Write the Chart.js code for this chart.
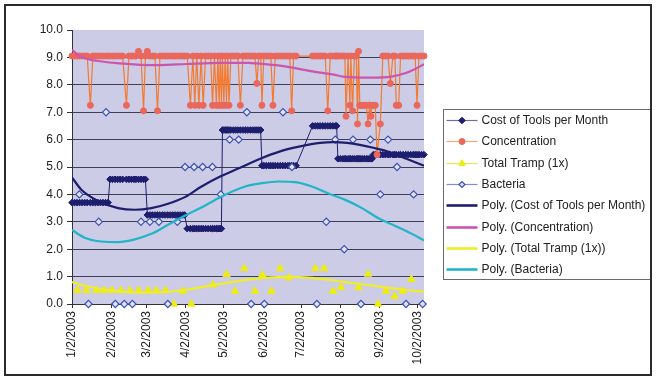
<!DOCTYPE html>
<html><head><meta charset="utf-8">
<script src="https://cdn.jsdelivr.net/npm/chart.js@4.4.1/dist/chart.umd.min.js"></script>
<style>html,body{margin:0;padding:0;background:#fff;}#wrap{position:relative;width:660px;height:383px;}</style>
</head><body><div id="wrap"><canvas id="c" width="660" height="383"></canvas></div>
<script>
// x values are days counted from 1/2/2003
const tickDays = [0, 31, 59, 90, 120, 151, 181, 212, 243, 273];
const tickLabels = ['1/2/2003','2/2/2003','3/2/2003','4/2/2003','5/2/2003','6/2/2003','7/2/2003','8/2/2003','9/2/2003','10/2/2003'];

const sampleDays = [
 0,2,4,6,8,10,12,14.5,16.5,18.5,20.5,22.5,24.5,26.5,28.5,
 30,32,34,36,38,40,43,45,47,49,50.5,52.5,54.5,56.5,58,
 59.5,61.5,63.5,65.5,67.5,69.5,71.5,73.5,75.5,77.5,79.5,81.5,83.5,85.5,87.5,89,
 91,93.5,95.5,97,98.5,100.2,102,103.6,105.5,107.5,109.5,111,112.5,114,115.2,116.2,117.1,118,
 118.8,119.9,121,122,123,124,125.5,127.5,129.5,131,133,135,137,139,141,143,144.5,146,147.5,149,
 150,151.5,153.5,155.5,157,158.7,160.5,162.5,164.5,166.5,168.5,170.5,172,173.5,175,177,
 190,192,194,196,198,200,202,204,206,208,209,
 210,212,214,215.5,216.4,218,219.5,220.2,221.6,223,224.5,225.5,226.3,227.3,228.2,229.6,231,232.5,233.8,235,236.1,237,
 238,239.5,240.9,243.5,245.5,247.5,249.5,251.4,253.5,255,256.1,258,259.5,261.5,263.5,265.5,267.5,269.5,271,272.5,274,276,278
];
const costOfTools = [
 3.7,3.7,3.7,3.7,3.7,3.7,3.7,3.7,3.7,3.7,3.7,3.7,3.7,3.7,3.7,
 4.55,4.55,4.55,4.55,4.55,4.55,4.55,4.55,4.55,4.55,4.55,4.55,4.55,4.55,4.55,
 3.25,3.25,3.25,3.25,3.25,3.25,3.25,3.25,3.25,3.25,3.25,3.25,3.25,3.25,3.25,3.25,
 2.75,2.75,2.75,2.75,2.75,2.75,2.75,2.75,2.75,2.75,2.75,2.75,2.75,2.75,2.75,2.75,2.75,2.75,
 6.35,6.35,6.35,6.35,6.35,6.35,6.35,6.35,6.35,6.35,6.35,6.35,6.35,6.35,6.35,6.35,6.35,6.35,6.35,6.35,
 5.05,5.05,5.05,5.05,5.05,5.05,5.05,5.05,5.05,5.05,5.05,5.05,5.05,5.05,5.05,5.05,
 6.5,6.5,6.5,6.5,6.5,6.5,6.5,6.5,6.5,6.5,6.5,
 5.3,5.3,5.3,5.3,5.3,5.3,5.3,5.3,5.3,5.3,5.3,5.3,5.3,5.3,5.3,5.3,5.3,5.3,5.3,5.3,5.3,5.3,
 5.45,5.45,5.45,5.45,5.45,5.45,5.45,5.45,5.45,5.45,5.45,5.45,5.45,5.45,5.45,5.45,5.45,5.45,5.45,5.45,5.45,5.45,5.45
];
const concentration = [
 9.05,9.05,9.05,9.05,9.05,9.05,9.05,7.25,9.05,9.05,9.05,9.05,9.05,9.05,9.05,
 9.05,9.05,9.05,9.05,9.05,9.05,7.25,9.05,9.05,9.05,9.05,9.22,9.05,7.05,9.05,
 9.22,9.05,9.05,9.05,7.05,9.05,9.05,9.05,9.05,9.05,9.05,9.05,9.05,9.05,9.05,9.05,
 9.05,7.25,9.05,7.25,9.05,7.25,9.05,7.25,9.05,9.05,9.05,7.25,9.05,7.25,9.05,7.25,9.05,7.25,
 9.05,7.25,9.05,7.25,9.05,7.25,9.05,9.05,9.05,9.05,7.25,9.05,9.05,9.05,9.05,9.05,9.05,8.05,9.05,9.05,
 7.25,9.05,9.05,9.05,9.05,7.25,9.05,9.05,9.05,9.05,9.05,9.05,9.05,7.05,9.05,9.05,
 9.05,9.05,9.05,9.05,9.05,9.05,7.05,9.05,9.05,9.05,9.05,
 9.05,9.05,9.05,9.05,6.85,9.05,7.25,9.05,7.05,9.05,9.05,6.57,9.22,7.25,7.25,7.25,7.25,7.25,6.57,7.25,6.85,7.25,
 7.25,7.25,5.45,6.57,9.05,9.05,9.05,8.05,9.05,9.05,7.25,7.25,9.05,9.05,9.05,9.05,9.05,9.05,9.05,7.25,9.05,9.05,9.05
];
const trampDays = [4.2,11.3,19.2,25.3,31.6,38.5,45.6,52.7,60.1,66.6,73.8,80.4,87.5,94.2,111.3,122.1,128.7,136.1,144.5,150.4,157.5,164.4,171,192.1,199.2,206.1,212.4,226.3,233.8,241.7,248,254.8,261.1,268];
const totalTramp = [0.5,0.5,0.5,0.5,0.5,0.5,0.5,0.5,0.5,0.5,0.5,0,0.47,0,0.7,1.08,0.47,1.3,0.47,1.06,0.47,1.3,0.96,1.3,1.3,0.47,0.6,0.6,1.09,0,0.47,0.28,0.47,0.9];
const bacteriaDays = [5.8,13,21.1,26.9,34.2,41.3,47.7,54.5,61.5,68.6,75.7,83.2,89.3,96.4,103.2,110.9,117.5,124.5,131.6,138.1,141.5,151.9,166.6,173.7,193.4,200.8,207.9,215,221.9,228.2,235.6,243.5,249.6,256.7,263.8,269.8,276.9];
const bacteria = [4,0,3,7,0,0,0,3,3,3,0,3,5,5,5,5,4,6,6,7,0,0,7,5,0,3,6,2,6,0,6,4,6,5,0,4,0];

const polyCostDays = [0,7.4,20.6,36.4,49.6,62.7,75.9,89.1,102,117,132.8,148.6,164.4,180.2,196,206.3,217.2,233,248.8,264.6,278];
const polyCost = [4.62,4.17,3.76,3.5,3.44,3.5,3.66,3.9,4.28,4.65,4.97,5.3,5.57,5.75,5.88,5.91,5.88,5.75,5.57,5.29,5.05];
const polyConcDays = [0,6.3,14.2,22.1,37.9,53.8,69.6,90.7,117,139.1,146,166.8,191.9,206.6,214.2,235.6,252.4,263,269.8,278];
const polyConc = [9.28,9.04,8.92,8.86,8.78,8.73,8.72,8.76,8.8,8.8,8.78,8.68,8.47,8.37,8.3,8.26,8.3,8.42,8.55,8.75];
const polyTrampDays = [0,12.6,36.4,62.7,75.9,89.1,110.1,136.8,152.6,171,189.5,215.8,242.1,263.2,278];
const polyTramp = [0.8,0.64,0.46,0.41,0.44,0.51,0.68,0.87,0.95,0.99,0.95,0.8,0.64,0.52,0.45];
const polyBactDays = [0,10,23.2,36.4,49.6,62.7,75.9,89.1,102.2,117,136.8,150,163.1,176.3,189.5,202.6,215.8,229,242.1,255.3,268.5,278];
const polyBact = [2.7,2.42,2.28,2.26,2.36,2.56,2.89,3.22,3.52,3.9,4.29,4.41,4.47,4.45,4.29,4.03,3.8,3.5,3.13,2.85,2.56,2.32];

const FONT = "'Liberation Sans', Arial, sans-serif";
Chart.defaults.font.family = FONT;
Chart.defaults.font.size = 12;
Chart.defaults.color = '#222';

const pts = (xs, ys) => xs.map((x, i) => ({x: x, y: ys[i]}));

const NAVY = '#1E1E6E', ORANGE = '#F47A30', SALMON = '#EA675C', YEL = '#EEEC10', BLUE = '#3A52B0';
const MAG = '#CC55AE', YLINE = '#EEEE2A', CYAN = '#22B4C8';

const bgFrame = {
  id: 'bgFrame',
  beforeDraw(chart) {
    const ctx = chart.ctx, a = chart.chartArea;
    ctx.save();
    ctx.fillStyle = '#ffffff';
    ctx.fillRect(0, 0, chart.width, chart.height);
    ctx.fillStyle = '#CCCCE6';
    ctx.fillRect(a.left, a.top, a.right - a.left, a.bottom - a.top);
    ctx.restore();
  },
  afterDraw(chart) {
    const ctx = chart.ctx;
    ctx.save();
    // legend box
    ctx.fillStyle = '#ffffff';
    ctx.fillRect(443, 109, 208, 171);
    ctx.strokeStyle = '#6a6a6a';
    ctx.lineWidth = 1;
    ctx.strokeRect(443.5, 109.5, 207, 170);
    const H = Chart.helpers;
    chart.data.datasets.forEach((ds, i) => {
      const y = Math.round(120 + i * 21.33) + 0.5;
      const poly = ds.label.indexOf('Poly.') === 0;
      ctx.beginPath();
      ctx.moveTo(446.5, y); ctx.lineTo(477.5, y);
      if (poly) {
        ctx.globalAlpha = 1; ctx.lineWidth = 2.6; ctx.strokeStyle = ds.borderColor;
      } else {
        ctx.globalAlpha = 0.65; ctx.lineWidth = 1.2; ctx.strokeStyle = ds.legendLine;
      }
      ctx.stroke();
      ctx.globalAlpha = 1;
      if (!poly) {
        ctx.fillStyle = ds.pointBackgroundColor;
        ctx.strokeStyle = ds.pointBorderColor;
        ctx.lineWidth = ds.pointBorderWidth || 1;
        H.drawPoint(ctx, {pointStyle: ds.pointStyle, radius: ds.legendRadius, borderWidth: ds.pointBorderWidth || 1, rotation: 0}, 462, y);
      }
      ctx.fillStyle = '#222';
      ctx.font = '12px ' + FONT;
      ctx.textBaseline = 'middle';
      ctx.textAlign = 'left';
      ctx.fillText(ds.label, 481.5, y);
    });
    // outer frame
    ctx.strokeStyle = '#2a2a2a';
    ctx.lineWidth = 2;
    ctx.strokeRect(5, 5, 646, 370);
    ctx.restore();
  }
};

new Chart(document.getElementById('c'), {
  type: 'line',
  data: {
    datasets: [
      { label: 'Cost of Tools per Month', data: pts(sampleDays, costOfTools), borderColor: NAVY, borderWidth: 1,
        pointStyle: 'rectRot', pointRadius: 3.3, pointBackgroundColor: NAVY, pointBorderColor: NAVY, pointBorderWidth: 1,
        legendLine: NAVY, legendRadius: 3.3, order: 8, clip: false },
      { label: 'Concentration', data: pts(sampleDays, concentration), borderColor: ORANGE, borderWidth: 1.2,
        pointStyle: 'circle', pointRadius: 3, pointBackgroundColor: SALMON, pointBorderColor: SALMON, pointBorderWidth: 1,
        legendLine: ORANGE, legendRadius: 3, order: 7, clip: false },
      { label: 'Total Tramp (1x)', data: pts(trampDays, totalTramp), showLine: false, borderColor: YEL,
        pointStyle: 'triangle', pointRadius: 4.3, pointBackgroundColor: YEL, pointBorderColor: YEL, pointBorderWidth: 1,
        legendLine: '#d8d800', legendRadius: 3.8, order: 6, clip: false },
      { label: 'Bacteria', data: pts(bacteriaDays, bacteria), showLine: false, borderColor: BLUE,
        pointStyle: 'rectRot', pointRadius: 3.6, pointBackgroundColor: '#E2E2F4', pointBorderColor: BLUE, pointBorderWidth: 1.2,
        legendLine: BLUE, legendRadius: 3, order: 5, clip: false },
      { label: 'Poly. (Cost of Tools per Month)', data: pts(polyCostDays, polyCost), borderColor: NAVY, borderWidth: 2.2,
        pointRadius: 0, cubicInterpolationMode: 'monotone', order: 4 },
      { label: 'Poly. (Concentration)', data: pts(polyConcDays, polyConc), borderColor: MAG, borderWidth: 2.2,
        pointRadius: 0, cubicInterpolationMode: 'monotone', order: 3 },
      { label: 'Poly. (Total Tramp (1x))', data: pts(polyTrampDays, polyTramp), borderColor: YLINE, borderWidth: 2.2,
        pointRadius: 0, cubicInterpolationMode: 'monotone', order: 2 },
      { label: 'Poly. (Bacteria)', data: pts(polyBactDays, polyBact), borderColor: CYAN, borderWidth: 2.2,
        pointRadius: 0, cubicInterpolationMode: 'monotone', order: 1 }
    ]
  },
  options: {
    responsive: false,
    animation: false,
    devicePixelRatio: 1,
    events: [],
    layout: { padding: { left: 0, top: 30, right: 236, bottom: 0 } },
    plugins: { legend: { display: false }, tooltip: { enabled: false } },
    scales: {
      x: {
        type: 'linear', min: 0, max: 278,
        afterBuildTicks: s => { s.ticks = tickDays.map(v => ({value: v})); },
        afterFit: s => { s.height = 79; },
        ticks: { autoSkip: false, minRotation: 90, maxRotation: 90, padding: 3, color: '#222',
                 callback: (v, i) => tickLabels[i] },
        grid: { drawOnChartArea: false, drawTicks: true, tickLength: 4, color: '#333' },
        border: { display: true, color: '#333', width: 1 }
      },
      y: {
        min: 0, max: 10,
        afterFit: s => { s.width = 72; },
        ticks: { stepSize: 1, padding: 4, color: '#222', callback: v => Number(v).toFixed(1) },
        grid: { color: c => (c.tick && c.tick.value === 10) ? 'rgba(0,0,0,0)' : '#3e3e58', tickColor: '#333', tickLength: 5, lineWidth: 1 },
        border: { display: true, color: '#333', width: 1 }
      }
    }
  },
  plugins: [bgFrame]
});
</script></body></html>
